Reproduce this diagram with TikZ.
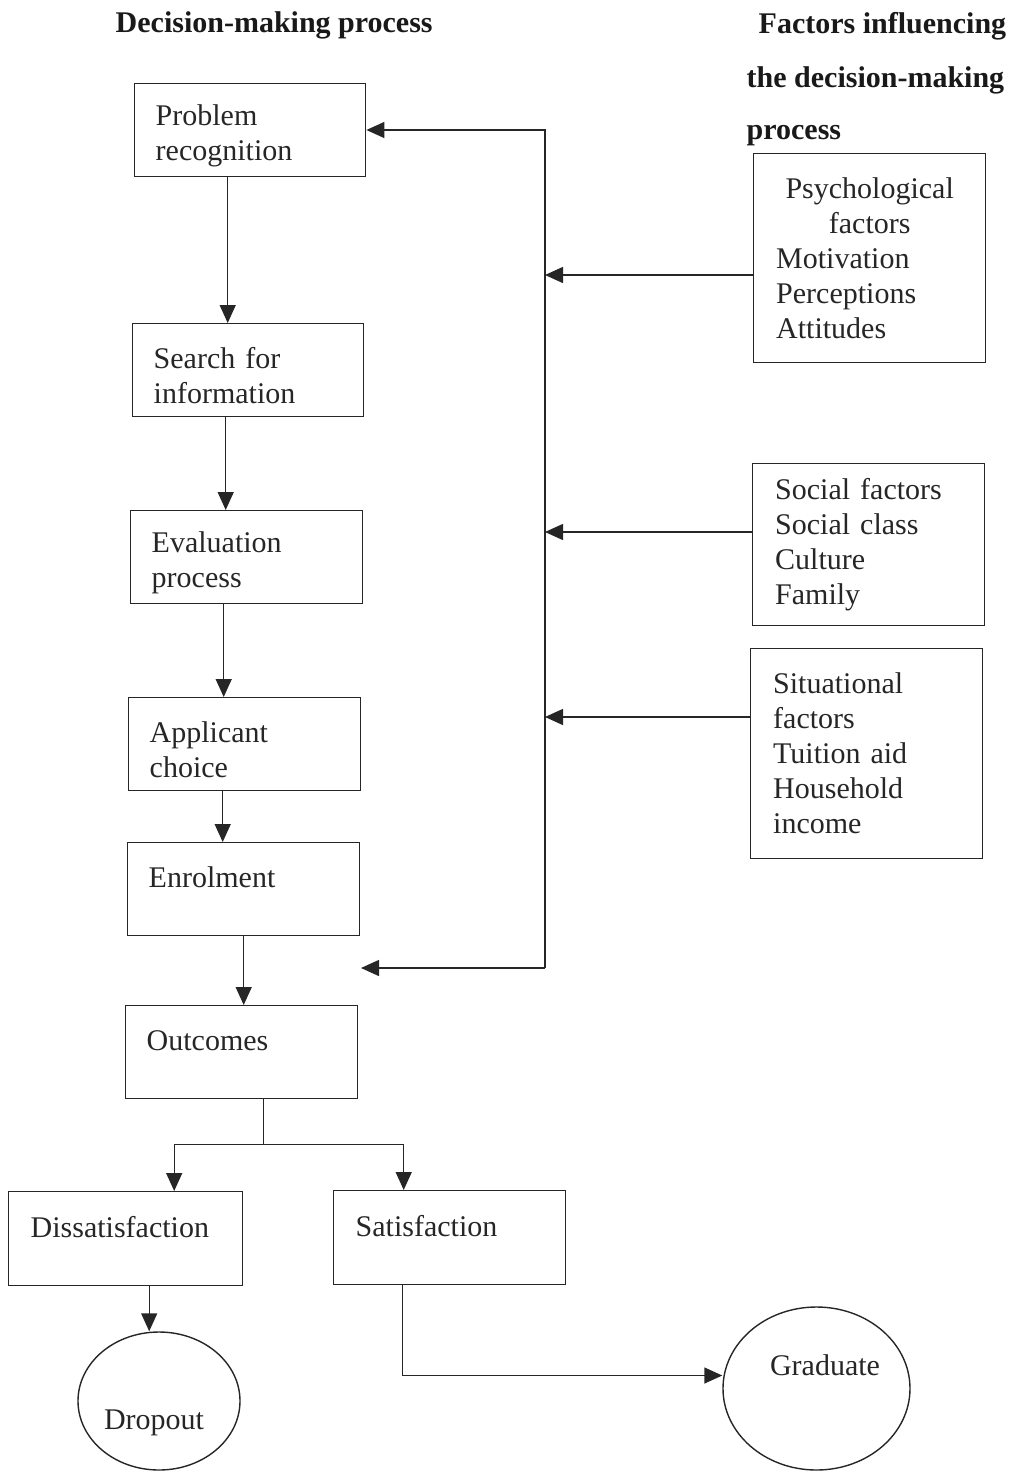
\documentclass[tikz,border=0pt]{standalone}
\usepackage{fontspec}
\setmainfont{Liberation Serif}
\usetikzlibrary{arrows.meta,shapes.geometric,calc}

\begin{document}
\begin{tikzpicture}[x=1pt,y=-1pt,
  line width=1.4pt,
  ink/.style={draw=black!85},
  txt/.style={font=\fontsize{30}{35}\selectfont, text=black!85},
  hdr/.style={font=\fontsize{30}{35}\selectfont\bfseries, text=black!90, inner sep=0pt, anchor=base west},
  stepbox/.style={ink, txt, rectangle, anchor=north west, align=left,
    inner xsep=21pt, inner ysep=0pt, text width=#1},
  factorbox/.style={ink, txt, rectangle, anchor=north west, align=left,
    inner xsep=22pt, inner ysep=0pt, text width=187pt},
  endstate/.style={ink, ellipse, inner sep=0pt},
  arr/.style={ink, -{Triangle[length=18pt,width=16pt]}},
]
% page frame
\useasboundingbox (0,0) rectangle (1015,1472);

% headings
\node[hdr] (hleft) at (115,33) {Decision-making process};
\node[hdr] (hright1) at (758,34) {Factors influencing};
\node[hdr] (hright2) at (746,87) {the decision-making};
\node[hdr] (hright3) at (746,139) {process};

% decision-making steps
\node[stepbox=189pt, minimum width=231pt, minimum height=93pt] (prob) at (134,83) {\rule{0pt}{32pt}Problem\\recognition};
\node[stepbox=189pt, minimum width=231pt, minimum height=93pt] (search) at (132,323) {\rule{0pt}{32pt}Search for\\information};
\node[stepbox=190pt, minimum width=232pt, minimum height=93pt] (eval) at (130,510) {\rule{0pt}{32pt}Evaluation\\process};
\node[stepbox=190pt, minimum width=232pt, minimum height=93pt] (appl) at (128,697) {\rule{0pt}{32pt}Applicant\\choice};
\node[stepbox=190pt, minimum width=232pt, minimum height=93pt] (enrol) at (127,842) {\rule{0pt}{32pt}Enrolment\\\mbox{}};
\node[stepbox=190pt, minimum width=232pt, minimum height=93pt] (outc) at (125,1005) {\rule{0pt}{32pt}Outcomes\\\mbox{}};
\node[stepbox=190pt, minimum width=233pt, minimum height=94pt, inner xsep=22pt] (dis) at (8,1191) {\rule{0pt}{32pt}Dissatisfaction\\\mbox{}};
\node[stepbox=188pt, minimum width=230pt, minimum height=94pt, inner xsep=22pt] (sat) at (333,1190) {\rule{0pt}{32pt}Satisfaction\\\mbox{}};

% end states
\node[endstate, minimum width=162pt, minimum height=138pt] (drop) at (159,1401) {};
\node[txt] (droplbl) at (154,1423) {Dropout};
\node[endstate, minimum width=187pt, minimum height=163pt] (grad) at (816.5,1388.5) {};
\node[txt] (gradlbl) at (825,1365) {Graduate};

% influencing factors
\node[factorbox, minimum width=232pt, minimum height=209pt] (psy) at (753,153)
  {\makebox[\linewidth][c]{Psychological}\\\makebox[\linewidth][c]{factors}\\Motivation\\Perceptions\\Attitudes};
\node[factorbox, minimum width=232pt, minimum height=162pt, inner xsep=21pt] (soc) at (752,463)
  {Social factors\\Social class\\Culture\\Family};
\node[factorbox, minimum width=232pt, minimum height=210pt, inner xsep=21pt] (sit) at (750,648)
  {Situational\\factors\\Tuition aid\\Household\\income};

% main flow
\draw[arr] ([xshift=-22.5pt]prob.south) coordinate (a1) -- (a1 |- search.north);
\draw[arr] ([xshift=-22.5pt]search.south) coordinate (a2) -- (a2 |- eval.north);
\draw[arr] ([xshift=-23pt]eval.south) coordinate (a3) -- (a3 |- appl.north);
\draw[arr] ([xshift=-22pt]appl.south) coordinate (a4) -- (a4 |- enrol.north);
\draw[arr] (enrol.south) -- (enrol.south |- outc.north);

% branching after outcomes
\draw[ink] ([xshift=22pt]outc.south) -- ++(0,45) coordinate (split);
\draw[arr] (split) -| ([xshift=48.5pt]dis.north);
\draw[arr] (split) -| ([xshift=-46pt]sat.north);
\draw[arr] ([xshift=23.5pt]dis.south) coordinate (a5) -- (a5 |- drop.north);
\draw[arr] ([xshift=-47pt]sat.south) |- ([yshift=13pt]grad.west);

% feedback bus from the factors
\coordinate (fbtop) at (545,130);
\coordinate (fbbot) at (545,968);
\coordinate (fbend) at (361,968);
\draw[arr] (fbbot) -- (fbtop) -- (prob.east |- fbtop);
\draw[arr] (fbbot) -- (fbend);
\draw[arr] (psy.west |- 0,275) -- (fbtop |- 0,275);
\draw[arr] (soc.west |- 0,532) -- (fbtop |- 0,532);
\draw[arr] (sit.west |- 0,717) -- (fbtop |- 0,717);
\end{tikzpicture}
\end{document}
